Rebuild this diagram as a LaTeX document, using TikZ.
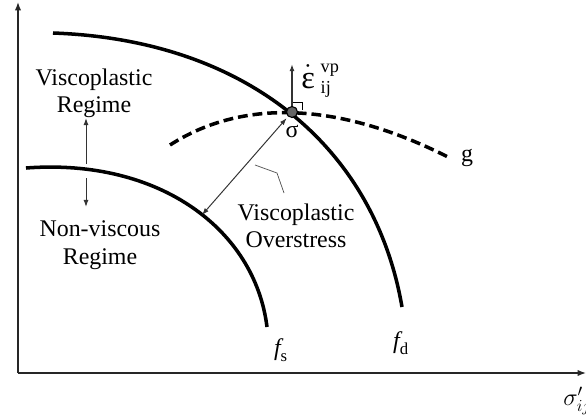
\documentclass[tikz,border=0pt]{standalone}
\usepackage{amsmath}
\usepackage{fontspec}
\setmainfont{Liberation Serif}
\usetikzlibrary{arrows.meta}

\begin{document}
\begin{tikzpicture}[x=0.025cm,y=-0.025cm,
    curva/.style={line width=2.5pt},
    assi/.style={line width=0.9pt,black!85,-{Latex[length=6pt,width=4.5pt]}},
    freccina/.style={line width=0.7pt,black!80,-{Latex[length=5pt,width=3.5pt]}},
    testo/.style={font=\fontsize{17}{19.5}\selectfont,align=center,inner sep=0pt}]
    % --- macro riutilizzabili -----------------------------------------
    \def\rpunto{0.275cm}
    \def\etichetta#1#2#3{\node[testo] (#1) at #2 {#3};}
    % --- cornice ------------------------------------------------------
    \useasboundingbox (0,0) rectangle (586,416);
    % --- assi ---------------------------------------------------------
    \coordinate (O) at (18,373);
    \coordinate (ytop) at (18,2);
    \coordinate (xend) at (586,373);
    \draw[assi] (O) -- (ytop);
    \draw[assi] (O) -- (xend);
    \node[testo,anchor=west] (xlab) at (563,401) {$\sigma'_{ij}$};
    % --- superfici di snervamento -------------------------------------
    \draw[curva] (53,33) .. controls (250,40) and (375,150) .. (402,307);
    \draw[curva] (26,168) .. controls (160,158) and (255,230) .. (267,327);
    \draw[curva,dash pattern=on 7pt off 3.5pt] (170,145) .. controls (240,100) and (335,100) .. (448,157);
    % --- punto di stato -----------------------------------------------
    \node[circle,draw,line width=0.8pt,fill=black!60,inner sep=0pt,
          minimum size=\rpunto] (sig) at (292,112) {};
    \coordinate (eps) at (292,64);
    \draw[freccina,line width=1pt] (sig) -- (eps);
    \draw[line width=0.6pt] (293,102) -- (302,102) -- (302,110);
    \node[font=\fontsize{23}{26}\selectfont,anchor=base west,inner sep=0pt] (leps) at (301,88)
        {$\dot{\text{ε}}{\mkern3mu}^{\text{\fontsize{13}{13}\selectfont vp}}_{\text{\fontsize{13}{13}\selectfont ij}}$};
    % --- sovratensione ------------------------------------------------
    \coordinate (os) at (202,215);
    \draw[freccina,{Latex[length=5pt,width=3.5pt]}-{Latex[length=5pt,width=3.5pt]},
          shorten <=1.5pt] (sig) -- (os);
    \draw[black!70,line width=0.5pt] (255,165) -- (277,173) -- (284,193);
    % --- regimi -------------------------------------------------------
    \coordinate (su0) at (86,164);
    \coordinate (su) at (86,118);
    \coordinate (giu0) at (86,178);
    \coordinate (giu) at (86,207);
    \draw[freccina] (su0) -- (su);
    \draw[freccina] (giu0) -- (giu);
    % --- etichette ----------------------------------------------------
    \etichetta{visc}{(94,93)}{Viscoplastic\\Regime}
    \etichetta{nonv}{(100,245)}{Non-viscous\\Regime}
    \etichetta{over}{(296,226)}{Viscoplastic\\Overstress}
    \etichetta{lsig}{(292,131)}{σ}
    \etichetta{lg}{(467,158)}{g}
    \etichetta{lfs}{(281,350)}{$\textit{f}_{\text{s}}$}
    \etichetta{lfd}{(401,343)}{$\textit{f}_{\text{d}}$}
\end{tikzpicture}
\end{document}
